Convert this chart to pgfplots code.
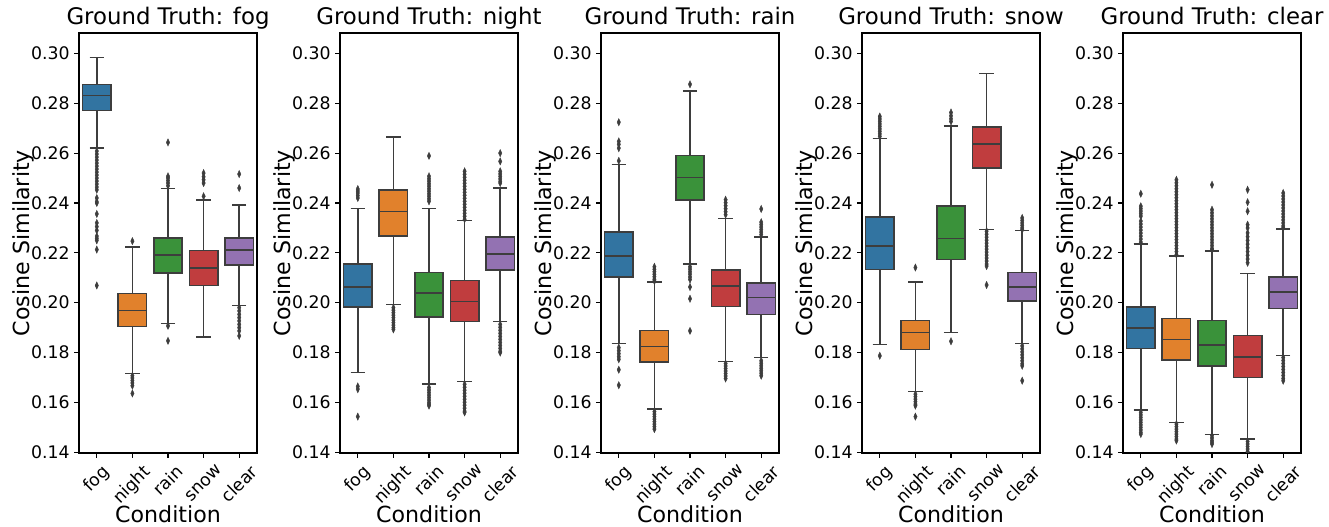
\documentclass[border=0pt]{standalone}
\usepackage{fontspec}
\setmainfont{DejaVu Sans}
\usepackage{graphicx}
\usepackage{pgfplots}
\pgfplotsset{compat=1.18}
\usepgfplotslibrary{statistics}
\definecolor{edge}{RGB}{61,61,61}
\definecolor{cb}{RGB}{50,116,161}
\definecolor{co}{RGB}{225,129,44}
\definecolor{cg}{RGB}{58,146,58}
\definecolor{cr}{RGB}{192,61,62}
\definecolor{cp}{RGB}{147,114,178}
\newcommand{\tf}{\fontsize{12.5}{15}\selectfont}
\pgfplotsset{
  panel/.style={
    scale only axis, width=128.16bp, height=302.4bp, anchor=south west,
    xmin=-0.5, xmax=4.5, ymin=0.1397, ymax=0.3082,
    xtick={0,1,2,3,4},
    xticklabels={\rotatebox{45}{\tf fog},\rotatebox{45}{\tf night},\rotatebox{45}{\tf rain},\rotatebox{45}{\tf snow},\rotatebox{45}{\tf clear}},
    ytick={0.14,0.16,0.18,0.20,0.22,0.24,0.26,0.28,0.30},
    yticklabels={\tf 0.14,\tf 0.16,\tf 0.18,\tf 0.20,\tf 0.22,\tf 0.24,\tf 0.26,\tf 0.28,\tf 0.30},
    xticklabel style={anchor=north, inner sep=1bp, yshift=-3bp},
    yticklabel style={inner sep=2bp, xshift=-1bp},
    label style={font=\fontsize{16}{19}\selectfont},
    title style={font=\fontsize{16.5}{20}\selectfont, at={(axis description cs:0.5,1)}, anchor=base},
    xlabel={Condition}, ylabel={Cosine Similarity},
    xlabel style={at={(axis description cs:0.5,-0.1663)}, anchor=base},
    ylabel style={at={(axis description cs:-0.2528,0.5)}, anchor=south, inner sep=0pt},
    tick align=outside, major tick length=3.5bp,
    tick style={line width=0.8bp, black},
    xtick pos=bottom, ytick pos=left,
    axis line style={line width=0.8bp},
    clip marker paths=true,
    boxplot/draw direction=y,
  },
  outl/.style={only marks, mark=diamond*, mark size=2.6bp,
    mark options={xscale=0.62, fill=edge, draw=edge, line width=0.3bp}},
}
% #1 pos, #2 colour, #3 lower whisker, #4 Q1, #5 median, #6 Q3, #7 upper whisker
\newcommand{\bx}[7]{\addplot[boxplot prepared={draw position=#1, lower whisker=#3,
  lower quartile=#4, median=#5, upper quartile=#6, upper whisker=#7,
  box extend=0.8, whisker extend=0.4}, draw=edge, line width=1.1bp, fill=#2] coordinates {};}
% outliers: #1 position, #2 values
\newcommand{\ol}[2]{\addplot[outl] table[x expr=#1, y index=0, row sep=\\, header=false] {#2};}
\begin{document}
\begin{tikzpicture}
\useasboundingbox (0,0) rectangle (956.88bp,379.44bp);
% ---------------- fog
\begin{axis}[panel, at={(56.88bp,53.28bp)}, title={Ground Truth: fog}]
\bx{0}{cb}{0.2620}{0.2771}{0.2831}{0.2876}{0.2983}
\bx{1}{co}{0.1716}{0.1904}{0.1969}{0.2036}{0.2223}
\bx{2}{cg}{0.1917}{0.2120}{0.2192}{0.2260}{0.2459}
\bx{3}{cr}{0.1863}{0.2069}{0.2139}{0.2209}{0.2413}
\bx{4}{cp}{0.1989}{0.2152}{0.2211}{0.2259}{0.2391}
\ol{0}{0.2608\\0.2596\\0.2584\\0.2572\\0.2560\\0.2548\\0.2536\\0.2524\\0.2512\\0.2500\\0.2488\\0.2476\\0.2464\\0.2453\\0.2420\\0.2405\\0.2400\\0.2356\\0.2320\\0.2305\\0.2290\\0.2267\\0.2258\\0.2250\\0.2213\\0.2069\\}
\ol{1}{0.2247\\0.1707\\0.1698\\0.1688\\0.1678\\0.1667\\0.1636\\}
\ol{2}{0.2643\\0.2507\\0.2500\\0.2490\\0.2480\\0.2469\\0.1907\\0.1847\\}
\ol{3}{0.2520\\0.2505\\0.2493\\0.2480\\0.2427\\}
\ol{4}{0.2516\\0.2460\\0.1980\\0.1967\\0.1953\\0.1940\\0.1927\\0.1913\\0.1900\\0.1887\\0.1867\\}
\end{axis}
% ---------------- night
\begin{axis}[panel, at={(244.8bp,53.28bp)}, title={Ground Truth: night}]
\bx{0}{cb}{0.1720}{0.1983}{0.2064}{0.2156}{0.2377}
\bx{1}{co}{0.1992}{0.2267}{0.2365}{0.2453}{0.2665}
\bx{2}{cg}{0.1673}{0.1943}{0.2039}{0.2121}{0.2377}
\bx{3}{cr}{0.1683}{0.1924}{0.2004}{0.2089}{0.2329}
\bx{4}{cp}{0.1925}{0.2131}{0.2195}{0.2264}{0.2461}
\ol{0}{0.2456\\0.2448\\0.2440\\0.2430\\0.2420\\0.1664\\0.1653\\0.1543\\}
\ol{1}{0.1980\\0.1970\\0.1960\\0.1950\\0.1940\\0.1930\\0.1920\\0.1910\\0.1900\\0.1893\\}
\ol{2}{0.2589\\0.2507\\0.2497\\0.2487\\0.2477\\0.2467\\0.2457\\0.2447\\0.2437\\0.2427\\0.2417\\0.2407\\0.1660\\0.1650\\0.1640\\0.1630\\0.1620\\0.1610\\0.1600\\0.1593\\0.1587\\}
\ol{3}{0.2527\\0.2515\\0.2503\\0.2491\\0.2479\\0.2467\\0.2455\\0.2443\\0.2431\\0.2419\\0.2407\\0.2395\\0.2383\\0.2371\\0.2359\\0.2347\\0.2335\\0.1673\\0.1661\\0.1649\\0.1637\\0.1625\\0.1613\\0.1601\\0.1589\\0.1577\\0.1565\\0.1560\\}
\ol{4}{0.2600\\0.2567\\0.2527\\0.2517\\0.2507\\0.2497\\0.2487\\0.2480\\0.1913\\0.1901\\0.1889\\0.1877\\0.1865\\0.1853\\0.1841\\0.1829\\0.1817\\0.1805\\0.1800\\}
\end{axis}
% ---------------- rain
\begin{axis}[panel, at={(432.72bp,53.28bp)}, title={Ground Truth: rain}]
\bx{0}{cb}{0.1836}{0.2103}{0.2187}{0.2284}{0.2555}
\bx{1}{co}{0.1573}{0.1763}{0.1824}{0.1889}{0.2084}
\bx{2}{cg}{0.2155}{0.2413}{0.2503}{0.2591}{0.2849}
\bx{3}{cr}{0.1764}{0.1984}{0.2067}{0.2131}{0.2337}
\bx{4}{cp}{0.1780}{0.1953}{0.2020}{0.2079}{0.2263}
\ol{0}{0.2724\\0.2647\\0.2635\\0.2620\\0.2569\\0.1820\\0.1808\\0.1796\\0.1784\\0.1773\\0.1731\\0.1669\\}
\ol{1}{0.2144\\0.2134\\0.2124\\0.2114\\0.2104\\0.2094\\0.2087\\0.1563\\0.1553\\0.1543\\0.1533\\0.1523\\0.1513\\0.1503\\0.1493\\}
\ol{2}{0.2876\\0.2144\\0.2134\\0.2124\\0.2114\\0.2103\\0.2093\\0.2063\\0.2016\\0.1887\\}
\ol{3}{0.2413\\0.2401\\0.2389\\0.2377\\0.2365\\0.2353\\0.1756\\0.1746\\0.1736\\0.1726\\0.1716\\0.1706\\0.1696\\}
\ol{4}{0.2376\\0.2323\\0.2313\\0.2303\\0.2293\\0.2283\\0.2273\\0.1767\\0.1757\\0.1747\\0.1737\\0.1727\\0.1717\\0.1707\\}
\end{axis}
% ---------------- snow
\begin{axis}[panel, at={(620.64bp,53.28bp)}, title={Ground Truth: snow}]
\bx{0}{cb}{0.1832}{0.2133}{0.2227}{0.2343}{0.2659}
\bx{1}{co}{0.1643}{0.1813}{0.1880}{0.1929}{0.2083}
\bx{2}{cg}{0.1881}{0.2173}{0.2257}{0.2387}{0.2709}
\bx{3}{cr}{0.2293}{0.2541}{0.2637}{0.2705}{0.2919}
\bx{4}{cp}{0.1836}{0.2007}{0.2063}{0.2121}{0.2289}
\ol{0}{0.2747\\0.2737\\0.2727\\0.2717\\0.2707\\0.2697\\0.2687\\0.2677\\0.2667\\0.1787\\}
\ol{1}{0.2141\\0.1633\\0.1623\\0.1613\\0.1603\\0.1593\\0.1587\\0.1543\\}
\ol{2}{0.2763\\0.2750\\0.2738\\0.2727\\0.1845\\}
\ol{3}{0.2287\\0.2275\\0.2263\\0.2251\\0.2239\\0.2227\\0.2215\\0.2203\\0.2191\\0.2179\\0.2167\\0.2155\\0.2147\\0.2071\\}
\ol{4}{0.2340\\0.2330\\0.2320\\0.2310\\0.2300\\0.2293\\0.1827\\0.1815\\0.1803\\0.1791\\0.1779\\0.1767\\0.1755\\0.1747\\0.1687\\}
\end{axis}
% ---------------- clear
\begin{axis}[panel, at={(808.56bp,53.28bp)}, title={Ground Truth: clear}]
\bx{0}{cb}{0.1569}{0.1816}{0.1899}{0.1983}{0.2236}
\bx{1}{co}{0.1520}{0.1770}{0.1853}{0.1936}{0.2187}
\bx{2}{cg}{0.1471}{0.1747}{0.1831}{0.1929}{0.2207}
\bx{3}{cr}{0.1453}{0.1700}{0.1783}{0.1869}{0.2117}
\bx{4}{cp}{0.1789}{0.1977}{0.2043}{0.2104}{0.2296}
\ol{0}{0.2437\\0.2387\\0.2377\\0.2367\\0.2357\\0.2347\\0.2327\\0.2315\\0.2303\\0.2291\\0.2279\\0.2267\\0.2255\\0.2243\\0.1560\\0.1550\\0.1540\\0.1530\\0.1520\\0.1510\\0.1500\\0.1490\\0.1480\\0.1473\\}
\ol{1}{0.2493\\0.2481\\0.2469\\0.2457\\0.2445\\0.2433\\0.2421\\0.2409\\0.2397\\0.2385\\0.2373\\0.2361\\0.2349\\0.2337\\0.2325\\0.2313\\0.2301\\0.2289\\0.2277\\0.2265\\0.2253\\0.2241\\0.2229\\0.2217\\0.2205\\0.2193\\0.1513\\0.1503\\0.1493\\0.1483\\0.1473\\0.1463\\0.1453\\0.1447\\}
\ol{2}{0.2473\\0.2373\\0.2361\\0.2349\\0.2337\\0.2325\\0.2313\\0.2301\\0.2289\\0.2277\\0.2265\\0.2253\\0.2241\\0.2229\\0.2217\\0.2213\\0.1467\\0.1457\\0.1447\\0.1440\\0.1433\\}
\ol{3}{0.2453\\0.2403\\0.2367\\0.2313\\0.2300\\0.2280\\0.2265\\0.2250\\0.2235\\0.2220\\0.2205\\0.2190\\0.2175\\0.2160\\0.1443\\0.1433\\0.1423\\0.1413\\0.1403\\0.1397\\}
\ol{4}{0.2440\\0.2428\\0.2416\\0.2404\\0.2392\\0.2380\\0.2368\\0.2356\\0.2344\\0.2332\\0.2320\\0.2308\\0.2300\\0.1780\\0.1768\\0.1756\\0.1744\\0.1732\\0.1720\\0.1708\\0.1696\\0.1687\\}
\end{axis}
\end{tikzpicture}
\end{document}
